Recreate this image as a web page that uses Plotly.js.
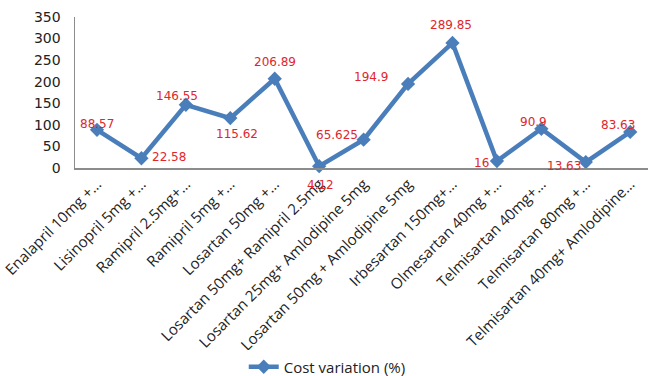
<!DOCTYPE html>
<html>
<head>
<meta charset="utf-8">
<script src="https://cdn.plot.ly/plotly-3.0.1.min.js"></script>
<style>
  html, body { margin: 0; padding: 0; background: #ffffff; }
  #chart { width: 648px; height: 376px; }
</style>
</head>
<body>
<div id="chart"></div>
<script>
// Drug combinations (axis labels are shortened with an ellipsis where long)
const regimens = [
  "Enalapril 10mg +…",
  "Lisinopril 5mg +…",
  "Ramipril 2.5mg+…",
  "Ramipril 5mg +…",
  "Losartan 50mg +…",
  "Losartan 50mg+ Ramipril 2.5mg",
  "Losartan 25mg+ Amlodipine 5mg",
  "Losartan 50mg + Amlodipine 5mg",
  "Irbesartan 150mg+…",
  "Olmesartan 40mg +…",
  "Telmisartan 40mg+…",
  "Telmisartan 80mg +…",
  "Telmisartan 40mg+ Amlodipine…"
];

// Cost variation (%) for each regimen
const costVariation = [88.57, 22.58, 146.55, 115.62, 206.89, 4.12, 65.625, 194.9, 289.85, 16, 90.9, 13.63, 83.63];

// Pixel offsets of each value label from its marker [dx, dy], dy upward
const labelOffsets = [
  [0, 6], [28, 1], [-9, 9], [7, -16], [0, 17], [1, -19], [-27, 5],
  [-37, 7], [-1, 18], [-15, -2], [-8, 7], [-22, -4], [-12, 7]
];

const yTicks = [0, 50, 100, 150, 200, 250, 300, 350];

const xPos = regimens.map((_, i) => i);

const trace = {
  type: "scatter",
  mode: "lines+markers",
  name: "Cost variation (%)",
  x: xPos,
  y: costVariation,
  line: { color: "#4a7ebb", width: 4.5 },
  marker: { symbol: "diamond", size: 11, color: "#4a7ebb" },
  cliponaxis: false,
  hoverinfo: "skip"
};

const valueLabels = costVariation.map((v, i) => ({
  x: xPos[i],
  y: v,
  xref: "x",
  yref: "y",
  text: String(v),
  showarrow: false,
  xshift: labelOffsets[i][0],
  yshift: labelOffsets[i][1],
  font: { family: "DejaVu Sans", size: 12, color: "#e0262c" }
}));

const layout = {
  width: 648,
  height: 376,
  margin: { l: 75, r: 0, t: 17, b: 208 },
  paper_bgcolor: "#ffffff",
  plot_bgcolor: "#ffffff",
  showlegend: true,
  annotations: valueLabels,
  legend: {
    orientation: "h",
    xref: "container", yref: "container",
    x: 0.505, xanchor: "center",
    y: 0.024, yanchor: "middle",
    font: { family: "Open Sans", size: 15, color: "#222222" }
  },
  xaxis: {
    range: [-0.495, 12.4],
    tickmode: "array",
    tickvals: xPos,
    ticktext: regimens,
    tickangle: -45,
    ticklabeloverflow: "allow",
    tickfont: { family: "Open Sans", size: 15, color: "#222222" },
    showline: true,
    linecolor: "#8c8c8c",
    linewidth: 1.5,
    showgrid: false,
    zeroline: false,
    ticks: ""
  },
  yaxis: {
    range: [0, 350],
    tickmode: "array",
    tickvals: yTicks,
    tickfont: { family: "DejaVu Sans", size: 14, color: "#222222" },
    showline: true,
    linecolor: "#8c8c8c",
    linewidth: 1.5,
    showgrid: false,
    zeroline: false,
    ticks: "",
    ticklabelstandoff: 10
  }
};

Plotly.newPlot("chart", [trace], layout, { displayModeBar: false, staticPlot: true });
</script>
</body>
</html>
